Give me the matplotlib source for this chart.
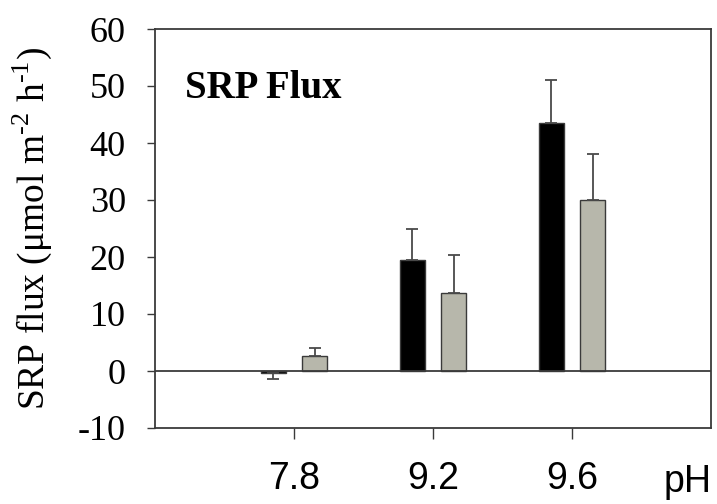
import matplotlib
matplotlib.use('Agg')
import matplotlib.pyplot as plt
import numpy as np

# значения
ph_labels = ['7.8', '9.2', '9.6']
flux_black = [-0.3, 19.5, 43.5]
err_black = [1.1, 5.4, 7.5]
flux_gray = [2.6, 13.7, 30.0]
err_gray = [1.4, 6.7, 8.1]
y_ticks = [-10, 0, 10, 20, 30, 40, 50, 60]

plt.rcParams['mathtext.fontset'] = 'custom'
plt.rcParams['mathtext.rm'] = 'Liberation Serif'

edge = '#3a3a3a'

fig = plt.figure(figsize=(7.17, 5.04), dpi=100)
ax = fig.add_axes([155 / 717, 1 - 428 / 504, 556 / 717, 399 / 504])

x = np.arange(len(ph_labels))
w = 0.18
off = 0.15

ax.bar(x - off, flux_black, w, color='black', edgecolor=edge, linewidth=1, zorder=2)
ax.bar(x + off, flux_gray, w, color='#b7b7ab', edgecolor=edge, linewidth=1, zorder=2)

# ошибки только в сторону столбика
lo_b = [e if v < 0 else 0 for v, e in zip(flux_black, err_black)]
hi_b = [0 if v < 0 else e for v, e in zip(flux_black, err_black)]
lo_g = [e if v < 0 else 0 for v, e in zip(flux_gray, err_gray)]
hi_g = [0 if v < 0 else e for v, e in zip(flux_gray, err_gray)]
ax.errorbar(x - off, flux_black, yerr=[lo_b, hi_b], fmt='none', ecolor='#4a4a4a',
            elinewidth=1.3, capsize=4, capthick=1.3, zorder=3)
ax.errorbar(x + off, flux_gray, yerr=[lo_g, hi_g], fmt='none', ecolor='#4a4a4a',
            elinewidth=1.3, capsize=4, capthick=1.3, zorder=3)

ax.axhline(0, color=edge, linewidth=1.3, zorder=4)

ax.set_xlim(-1, 3)
ax.set_ylim(-10, 60)
ax.set_yticks(y_ticks)
ax.set_yticklabels([str(t) for t in y_ticks], family='Liberation Serif', fontsize=26)
ax.set_xticks(x)
ax.set_xticklabels(ph_labels, family='Liberation Sans', fontsize=27)
ax.tick_params(axis='y', direction='out', length=6, width=1, color=edge, pad=15)
ax.tick_params(axis='x', direction='out', length=8, width=1, color=edge, pad=16)

for s in ax.spines.values():
    s.set_color(edge)
    s.set_linewidth(1.3)

ax.set_ylabel(r'SRP flux ($\mathrm{\mu}$mol m$^{\text{-2}}$ h$^{\text{-1}}$)',
              family='Liberation Serif', fontsize=27, labelpad=17)

ax.text(0.054, 0.85, 'SRP Flux', transform=ax.transAxes, family='Liberation Serif',
        fontweight='bold', fontsize=28, ha='left', va='center')

fig.text(1 - 5 / 717, 1 - 492 / 504, 'pH', family='Liberation Sans', fontsize=27,
         ha='right', va='baseline')

fig.savefig('out.png', dpi=100)
